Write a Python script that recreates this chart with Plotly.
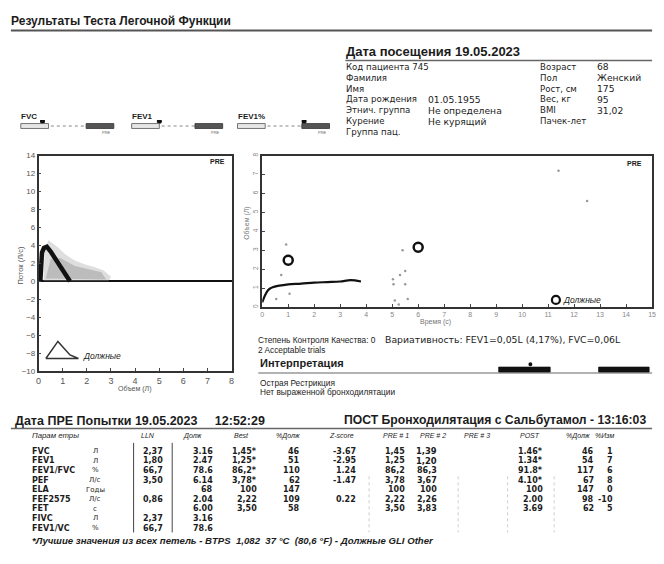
import plotly.graph_objects as go

# ---------------- data ----------------
# flow-volume loop (best trial)
fv_volume = [0.07, 0.09, 0.14, 0.22, 0.34, 0.5, 0.7, 0.9, 1.1, 1.3]
fv_flow = [0.0, 1.8, 3.2, 3.7, 3.85, 3.3, 2.5, 1.6, 0.8, 0.0]
# spread of the other flow-volume trials
cloud_volume = [0.2, 0.25, 0.4, 0.55, 0.8, 1.1, 1.5, 1.9, 2.3, 2.7, 3.0, 2.9, 0.2]
cloud_flow = [0.0, 3.2, 4.6, 4.3, 3.8, 3.0, 2.3, 1.9, 1.6, 1.2, 0.5, 0.0, 0.0]
cloud_core_volume = [0.3, 0.5, 0.9, 1.5, 2.0, 2.6, 2.8, 0.3]
cloud_core_flow = [0.3, 2.5, 2.6, 1.7, 1.4, 1.0, 0.2, 0.3]
# predicted-loop legend symbol
legend_tri_volume = [0.3, 0.8, 1.3, 1.65, 0.3]
legend_tri_flow = [-8.6, -6.7, -8.2, -8.6, -8.6]

# volume-time curve
vt_time = [0.0, 0.1, 0.2, 0.3, 0.4, 0.6, 0.8, 1.0, 1.5, 2.0, 2.5, 3.0, 3.4, 3.8]
vt_volume = [0.25, 0.6, 0.85, 0.98, 1.05, 1.12, 1.16, 1.2, 1.24, 1.29, 1.32, 1.35, 1.42, 1.35]
vt_noise_time = [5.03, 5.05, 5.1, 5.25, 5.3, 5.5, 5.5, 5.4, 5.6, 0.92, 0.73, 1.05, 0.54, 11.4, 12.5]
vt_noise_volume = [1.47, 1.2, 0.35, 0.14, 1.7, 1.9, 1.2, 3.0, 0.43, 3.3, 1.7, 0.7, 0.43, 7.2, 5.6]
pred_time = [1, 6]          # FEV1 at 1 s, FVC at 6 s
pred_volume = [2.47, 3.16]

# z-score indicators
z_labels = ["FVC", "FEV1", "FEV1%"]
z_values = [-3.67, -2.95, 1.24]

# patient block
info_left = ["Код пациента 745", "Фамилия", "Имя", "Дата рождения", "Этнич. группа", "Курение", "Группа пац."]
info_left_vals = ["", "", "", "01.05.1955", "Не определена", "Не курящий", ""]
info_right = ["Возраст", "Пол", "Рост, см", "Вес, кг", "BMI", "Пачек-лет"]
info_right_vals = ["68", "Женский", "175", "95", "31,02", ""]

# results table
params = ["FVC", "FEV1", "FEV1/FVC", "PEF", "ELA", "FEF2575", "FET", "FIVC", "FEV1/VC"]
units = ["Л", "Л", "%", "Л/с", "Годы", "Л/с", "с", "Л", "%"]
lln = ["2,37", "1,80", "66,7", "3,50", "", "0,86", "", "2,37", "66,7"]
pred = ["3.16", "2.47", "78.6", "6.14", "68", "2.04", "6.00", "3.16", "78.6"]
best = ["1,45*", "1,25*", "86,2*", "3,78*", "100", "2,22", "3,50", "", ""]
pct_pred = ["46", "51", "110", "62", "147", "109", "58", "", ""]
zscore = ["-3.67", "-2.95", "1.24", "-1.47", "", "0.22", "", "", ""]
pre1 = ["1,45", "1,25", "86,2", "3,78", "100", "2,22", "3,50", "", ""]
pre2 = ["1,39", "1,20", "86,3", "3,67", "100", "2,26", "3,83", "", ""]
pre3 = ["", "", "", "", "", "", "", "", ""]
post = ["1.46*", "1.34*", "91.8*", "4.10*", "100", "2.00", "3.69", "", ""]
post_pct = ["46", "54", "117", "67", "147", "98", "62", "", ""]
change = ["1", "7", "6", "8", "0", "-10", "5", "", ""]
headers = ["LLN", "Долж", "Best", "%Долж", "Z-score", "PRE # 1", "PRE # 2", "PRE # 3", "POST", "%Долж", "%Изм"]

# ---------------- helpers ----------------
W, H = 664, 564
SANS = "Liberation Sans, Arial, sans-serif"
WIDE = "DejaVu Sans, Verdana, sans-serif"
INK = "#1c1c1c"


def px(x):
    return x / W


def py(y):
    return 1 - y / H


annotations = []
shapes = []


def text(x, y, s, size=9, bold=False, italic=False, anchor="left", color=INK, family=SANS, **kw):
    if bold:
        s = "<b>" + s + "</b>"
    if italic:
        s = "<i>" + s + "</i>"
    if anchor == "left":
        x -= 1
    annotations.append(dict(x=px(x), y=py(y), xref="paper", yref="paper", text=s,
                            showarrow=False, xanchor=anchor, yanchor="middle", borderpad=0,
                            font=dict(size=size, color=color, family=family), **kw))


def hline(x0, x1, y, width=1, color="#333", dash="solid"):
    shapes.append(dict(type="line", xref="paper", yref="paper", x0=px(x0), x1=px(x1),
                       y0=py(y), y1=py(y), line=dict(width=width, color=color, dash=dash)))


def vline(x, y0, y1, width=1, color="#333", dash="solid"):
    shapes.append(dict(type="line", xref="paper", yref="paper", x0=px(x), x1=px(x),
                       y0=py(y0), y1=py(y1), line=dict(width=width, color=color, dash=dash)))


def rect(x0, x1, y0, y1, fill, line="#333"):
    shapes.append(dict(type="rect", xref="paper", yref="paper", x0=px(x0), x1=px(x1),
                       y0=py(y1), y1=py(y0), fillcolor=fill, line=dict(width=0.8, color=line)))


fig = go.Figure()

# ---------------- flow-volume ----------------
fig.add_trace(go.Scatter(x=cloud_volume, y=cloud_flow, fill="toself", mode="lines",
                         fillcolor="rgba(160,160,160,0.35)", line=dict(width=0),
                         xaxis="x", yaxis="y", hoverinfo="skip"))
fig.add_trace(go.Scatter(x=cloud_core_volume, y=cloud_core_flow, fill="toself", mode="lines",
                         fillcolor="rgba(110,110,110,0.3)", line=dict(width=0),
                         xaxis="x", yaxis="y", hoverinfo="skip"))
fig.add_trace(go.Scatter(x=fv_volume, y=fv_flow, mode="lines",
                         line=dict(color="#111", width=4.5), xaxis="x", yaxis="y"))
fig.add_trace(go.Scatter(x=legend_tri_volume, y=legend_tri_flow, mode="lines",
                         line=dict(color="#333", width=1.5), xaxis="x", yaxis="y"))
annotations.append(dict(x=1.75, y=-8.3, xref="x", yref="y", text="<i>Должные</i>", showarrow=False,
                        xanchor="left", yanchor="middle", font=dict(size=8.5, color=INK, family=SANS)))
annotations.append(dict(x=7.8, y=13.3, xref="x", yref="y", text="<b>PRE</b>", showarrow=False,
                        xanchor="right", yanchor="middle", font=dict(size=7, color=INK, family=SANS)))

# ---------------- volume-time ----------------
fig.add_trace(go.Scatter(x=vt_noise_time, y=vt_noise_volume, mode="markers",
                         marker=dict(color="#999", size=2.5), xaxis="x2", yaxis="y2"))
fig.add_trace(go.Scatter(x=vt_time, y=vt_volume, mode="lines",
                         line=dict(color="#111", width=2.2, shape="spline"), xaxis="x2", yaxis="y2"))
fig.add_trace(go.Scatter(x=pred_time, y=pred_volume, mode="markers",
                         marker=dict(symbol="circle-open", size=9, color="#111", line=dict(width=2.5)),
                         xaxis="x2", yaxis="y2"))
fig.add_trace(go.Scatter(x=[11.3], y=[0.38], mode="markers",
                         marker=dict(symbol="circle-open", size=8, color="#111", line=dict(width=2.2)),
                         xaxis="x2", yaxis="y2"))
annotations.append(dict(x=11.5, y=0.38, xref="x2", yref="y2", text="<i>Должные</i>", showarrow=False,
                        xanchor="left", yanchor="middle", font=dict(size=8.5, color=INK, family=SANS)))
annotations.append(dict(x=14.7, y=7.6, xref="x2", yref="y2", text="<b>PRE</b>", showarrow=False,
                        xanchor="right", yanchor="middle", font=dict(size=7, color=INK, family=SANS)))

# ---------------- z-score indicators ----------------
z_domains = [(18, 112), (130, 222), (237, 330)]
for i, (lab, z, (x0, x1)) in enumerate(zip(z_labels, z_values, z_domains)):
    ax = str(i + 3)
    fig.add_trace(go.Scatter(x=[z], y=[0.85], mode="markers", marker=dict(color="#111", size=5),
                             xaxis="x" + ax, yaxis="y" + ax))
    text(x0, 114, lab, size=8, bold=True)
    hline(x0, x1, 124, width=1, color="#888", dash="dot")
    rect(x0, x0 + 28, 121.5, 126.5, "#e6e6e6", "#555")
    rect(x1 - 28, x1, 121.5, 126.5, "#555", "#333")
    text(x1 - 2, 130.5, "PRE", size=4, anchor="right", color="#666")

# ---------------- header & patient info ----------------
text(8, 17, "Результаты Теста Легочной Функции", size=12, bold=True)
hline(8, 656, 27, width=2, color="#555")
text(347, 48, "Дата посещения 19.05.2023", size=13, bold=True)
hline(346, 656, 57.5, width=1.5, color="#666")
for k, (lab, val) in enumerate(zip(info_left, info_left_vals)):
    y = 64 + 11 * k
    text(347, y, lab, size=8.6, family=WIDE)
    if val:
        text(430, y, val, size=9.2, family=WIDE)
for k, (lab, val) in enumerate(zip(info_right, info_right_vals)):
    y = 64 + 11 * k
    text(543, y, lab, size=8.6, family=WIDE)
    if val:
        text(600, y, val, size=9.2, family=WIDE)

# ---------------- quality / interpretation ----------------
text(258, 341, "Степень Контроля Качества: 0", size=8.3)
text(386, 341, "Вариативность: FEV1=0,05L (4,17%), FVC=0,06L", size=9.3, family=WIDE)
text(258, 352, "2 Acceptable trials", size=8.3)
text(260, 365, "Интерпретация", size=11, bold=True)
hline(258, 656, 375, width=1.2, color="#666")
rect(501, 553, 369, 374, "#111", "#111")
rect(602, 653, 369, 374, "#111", "#111")
shapes.append(dict(type="circle", xref="paper", yref="paper", x0=px(531), x1=px(535),
                   y0=py(368), y1=py(364), fillcolor="#111", line=dict(width=0)))
text(260, 385, "Острая Рестрикция", size=8.3)
text(260, 394, "Нет выраженной бронходилятации", size=8.3)

# ---------------- results table ----------------
text(12, 424, "Дата ПРЕ Попытки 19.05.2023     12:52:29", size=12.5, bold=True)
text(345, 423, "ПОСТ Бронходилятация с Сальбутамол - 13:16:03", size=12.2, bold=True)
hline(8, 656, 431.5, width=1.5, color="#666")

col_right = [163, 213, 258, 301, 358, 407, 440, 480, 547, 598, 618]
head_pos = [147, 192, 241, 289, 342, 397, 435, 479, 533, 582, 608]
text(29, 439, "Парам етры", size=7.8, italic=True)
for h, xh in zip(headers, head_pos):
    text(xh, 439, h, size=7, italic=True, anchor="center")

columns = [lln, pred, best, pct_pred, zscore, pre1, pre2, pre3, post, post_pct, change]
row_y0, row_dy = 454.5, 9.75
for r, (name, unit) in enumerate(zip(params, units)):
    y = row_y0 + row_dy * r
    text(29, y, name, size=8, bold=True, family=WIDE)
    text(93, y, unit, size=7, anchor="center", family=WIDE)
    for c, (col, xr) in enumerate(zip(columns, col_right)):
        val = col[r]
        if not val:
            continue
        strong = (c == 6 and r < 2)
        text(xr, y, val, size=8.4 if strong else 8, bold=True, anchor="right", family=WIDE)

vline(132, 446, 537, width=1, color="#444")
vline(171, 446, 537, width=1, color="#444")
for xv in (370, 460, 510, 557):
    vline(xv, 480, 537, width=1, color="#ccc", dash="dot")

text(29, 545, "*Лучшие значения из всех петель - BTPS  1,082  37 °C  (80,6 °F) - Должные GLI Other",
     size=9.6, bold=True, italic=True)

# ---------------- axis titles ----------------
text(18, 265, "Поток (Л/с)", size=7.5, anchor="center", color="#555", textangle=-90)
text(133, 391, "Объем (Л)", size=7, anchor="center", color="#555")
text(247, 222, "Объем (Л)", size=7, anchor="center", color="#777", textangle=-90)
text(437, 323, "Время (с)", size=7, anchor="center", color="#777")

# ---------------- layout ----------------
frame = dict(showline=True, mirror=True, linecolor="#333", linewidth=1.5, showgrid=False,
             ticks="inside", ticklen=3, tickcolor="#444")
layout_axes = dict(
    xaxis=dict(domain=[px(36), px(231)], range=[0, 8], dtick=1, zeroline=False, anchor="y",
               tickfont=dict(size=9, color="#555", family=SANS), **frame),
    yaxis=dict(domain=[py(373), py(154)], range=[-10, 14], dtick=2, anchor="x",
               zeroline=True, zerolinecolor="#111", zerolinewidth=2,
               tickfont=dict(size=8, color="#555", family=SANS), **frame),
    xaxis2=dict(domain=[px(262), px(656)], range=[0, 15], dtick=1, zeroline=False, anchor="y2",
                tickfont=dict(size=7, color="#888", family=SANS), **frame),
    yaxis2=dict(domain=[py(308), py(154)], range=[0, 8], dtick=1, zeroline=False, anchor="x2",
                tickangle=-90, tickfont=dict(size=6.5, color="#888", family=SANS), **frame),
)
for i, (x0, x1) in enumerate(z_domains):
    ax = str(i + 3)
    layout_axes["xaxis" + ax] = dict(domain=[px(x0), px(x1)], range=[-6, 4], visible=False,
                                     anchor="y" + ax, fixedrange=True)
    layout_axes["yaxis" + ax] = dict(domain=[py(126), py(118)], range=[0, 1], visible=False,
                                     anchor="x" + ax, fixedrange=True)

fig.update_layout(
    width=W, height=H, margin=dict(l=0, r=0, t=0, b=0),
    paper_bgcolor="white", plot_bgcolor="white", showlegend=False,
    font=dict(family=SANS, color=INK),
    annotations=annotations, shapes=shapes, **layout_axes,
)

fig.write_html("out.html")
